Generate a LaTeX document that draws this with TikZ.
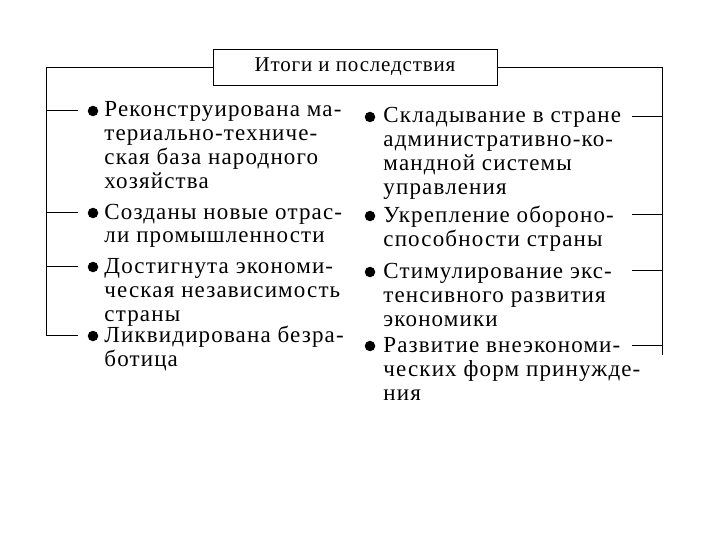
\documentclass[tikz,border=0pt]{standalone}
\usepackage{fontspec}
\setmainfont{Liberation Serif}
\usetikzlibrary{positioning}

\tikzset{
  punkt/.style={circle, fill=black, inner sep=0pt, minimum size=10.5pt},
  txt/.style={anchor=base west, align=left, inner sep=0pt,
    font=\fontsize{23}{24}\selectfont\addfontfeature{LetterSpace=5}},
  ramka/.style={draw, minimum width=284pt, minimum height=36pt, inner sep=0pt,
    font=\fontsize{21}{24}\selectfont\addfontfeature{LetterSpace=4}}
}

\begin{document}
\begin{tikzpicture}[x=1pt, y=-1pt, line width=0.9pt]
    \useasboundingbox (0,0) rectangle (720,540);
    \node [ramka] (head) at (355,67) {Итоги и последствия};

    % left column (text nodes sit on the baseline of their last line)
    \coordinate (lt) at (46,67);
    \coordinate (lb) at (46,335);
    \coordinate (lk1) at (78,110);
    \coordinate (lk2) at (78,212);
    \coordinate (lk3) at (78,266);
    \coordinate (lk4) at (78,335);
    \node [punkt] (lp1) at (93,111) {};
    \node [punkt] (lp2) at (93,213) {};
    \node [punkt] (lp3) at (93,267) {};
    \node [punkt] (lp4) at (93,336) {};
    \node [txt] (l1) at (104,189) {Реконструирована ма-\\териально-техниче-\\ская база народного\\хозяйства};
    \node [txt] (l2) at (104,243) {Созданы новые отрас-\\ли промышленности};
    \node [txt] (l3) at (104,321) {Достигнута экономи-\\ческая независимость\\страны};
    \node [txt] (l4) at (104,366) {Ликвидирована безра-\\ботица};

    % right column
    \coordinate (rt) at (662,67);
    \coordinate (rb) at (662,355);
    \coordinate (rk1) at (632,116);
    \coordinate (rk2) at (632,214);
    \coordinate (rk3) at (632,270);
    \coordinate (rk4) at (632,345);
    \node [punkt] (rp1) at (370,117) {};
    \node [punkt] (rp2) at (370,216) {};
    \node [punkt] (rp3) at (370,272) {};
    \node [punkt] (rp4) at (370,346) {};
    \node [txt] (r1) at (383,195) {Складывание в стране\\административно-ко-\\мандной системы\\управления};
    \node [txt] (r2) at (383,246) {Укрепление обороно-\\способности страны};
    \node [txt] (r3) at (383,326) {Стимулирование экс-\\тенсивного развития\\экономики};
    \node [txt] (r4) at (383,400) {Развитие внеэкономи-\\ческих форм принужде-\\ния};

    \draw (head.west) -- (head.west -| lt) -- (lb);
    \draw (head.east) -- (head.east -| rt) -- (rb);
    \draw (lk1 -| lt) -- (lk1);
    \draw (lk2 -| lt) -- (lk2);
    \draw (lk3 -| lt) -- (lk3);
    \draw (lb) -- (lk4);
    \draw (rk1 -| rt) -- (rk1);
    \draw (rk2 -| rt) -- (rk2);
    \draw (rk3 -| rt) -- (rk3);
    \draw (rk4 -| rt) -- (rk4);
\end{tikzpicture}
\end{document}
